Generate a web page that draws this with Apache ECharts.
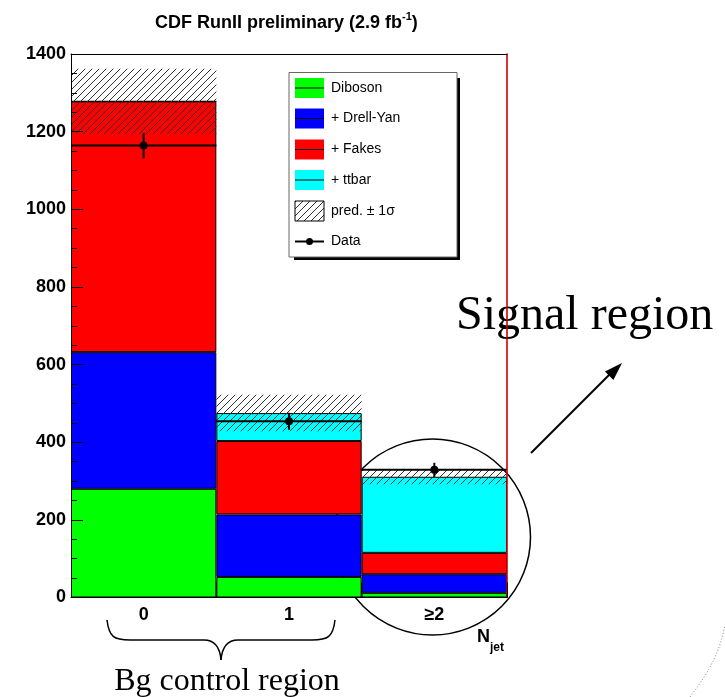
<!DOCTYPE html>
<html>
<head>
<meta charset="utf-8">
<script src="https://cdn.jsdelivr.net/npm/echarts@6/dist/echarts.min.js"></script>
<style>
html,body{margin:0;padding:0;background:#fff;}
#c{width:725px;height:697px;}
</style>
</head>
<body>
<div id="c"></div>
<script>
// ---- data ----
const categories = ['0', '1', '\u22652'];
const diboson  = [280, 53, 12];
const drellYan = [352, 161, 48];
const fakes    = [646, 189, 55];
const ttbar    = [0, 72, 196];
const predErr  = [84, 47, 19];
const dataVals = [1164, 454, 329];
const dataErr  = [33, 22, 18];
const yTicks   = [0, 200, 400, 600, 800, 1000, 1200, 1400];

const FONT = 'Liberation Sans, Arial, Helvetica, sans-serif';
const SERIF = 'Liberation Serif, Times New Roman, serif';

function makeHatch() {
  const c = document.createElement('canvas');
  c.width = 7; c.height = 7;
  const g = c.getContext('2d');
  g.strokeStyle = '#333';
  g.lineWidth = 1;
  g.beginPath();
  g.moveTo(-1, 8); g.lineTo(8, -1);
  g.moveTo(-1, 1); g.lineTo(1, -1);
  g.moveTo(6, 8); g.lineTo(8, 6);
  g.stroke();
  return c;
}
const hatch = makeHatch();

const totals = categories.map((_, i) => diboson[i] + drellYan[i] + fakes[i] + ttbar[i]);
const bandData = categories.map((_, i) => [i, totals[i] - predErr[i], totals[i] + predErr[i]]);
const dataPts = categories.map((_, i) => [i, dataVals[i], dataErr[i]]);

const chart = echarts.init(document.getElementById('c'), null, {renderer: 'canvas'});

const barStyle = (color) => ({color: color, borderColor: '#000', borderWidth: 1});

// legend layout
const legX = 295, legW = 29, legH = 20;
const legY = [88, 118.5, 149.5, 180, 211, 241.5];
const legNames = ['Diboson', '+ Drell-Yan', '+ Fakes', '+ ttbar', 'pred. \u00b1 1\u03c3', 'Data'];
const legColors = ['#00ff00', '#0000ff', '#ff0000', '#00ffff'];
const legendEls = [
  {type: 'rect', shape: {x: 457, y: 78, width: 3, height: 182}, style: {fill: '#000'}},
  {type: 'rect', shape: {x: 294, y: 257, width: 166, height: 3}, style: {fill: '#000'}},
  {type: 'rect', shape: {x: 289, y: 72.5, width: 168, height: 184.5}, style: {fill: '#fff', stroke: '#666', lineWidth: 1}}
];
legColors.forEach((col, k) => {
  legendEls.push({type: 'rect', shape: {x: legX, y: legY[k] - legH / 2, width: legW, height: legH}, style: {fill: col}});
  legendEls.push({type: 'line', shape: {x1: legX, y1: legY[k], x2: legX + legW, y2: legY[k]}, style: {stroke: '#000', lineWidth: 1}});
});
legendEls.push({type: 'rect', shape: {x: legX, y: legY[4] - legH / 2, width: legW, height: legH}, style: {fill: {image: hatch, repeat: 'repeat'}, stroke: '#000', lineWidth: 1}});
legendEls.push({type: 'line', shape: {x1: legX, y1: legY[5], x2: legX + legW, y2: legY[5]}, style: {stroke: '#000', lineWidth: 2}});
legendEls.push({type: 'circle', shape: {cx: legX + legW / 2, cy: legY[5], r: 3.5}, style: {fill: '#000'}});
legNames.forEach((n, k) => {
  legendEls.push({type: 'text', x: 331, y: legY[k], style: {text: n, font: '14px ' + FONT, fill: '#000', verticalAlign: 'middle', align: 'left'}});
});

const braceStyle = {fill: null, stroke: '#000', lineWidth: 1.5};
const annot = [
  // circle around signal region
  {type: 'circle', shape: {cx: 432.5, cy: 537, r: 98}, style: {fill: null, stroke: '#000', lineWidth: 1.5}},
  // arrow
  {type: 'line', shape: {x1: 531, y1: 453, x2: 612, y2: 372}, style: {stroke: '#000', lineWidth: 2}},
  {type: 'polygon', shape: {points: [[622, 363], [613.4, 380], [605, 371.4]]}, style: {fill: '#000'}},
  {type: 'text', x: 456, y: 316, style: {text: 'Signal region', font: '48px ' + SERIF, fill: '#000', verticalAlign: 'middle', align: 'left'}},
  // brace
  {type: 'bezierCurve', shape: {x1: 107, y1: 620, cpx1: 109, cpy1: 637, cpx2: 114, cpy2: 640, x2: 130, y2: 640}, style: braceStyle},
  {type: 'line', shape: {x1: 130, y1: 640, x2: 204, y2: 640}, style: braceStyle},
  {type: 'bezierCurve', shape: {x1: 204, y1: 640, cpx1: 215, cpy1: 640, cpx2: 220, cpy2: 648, x2: 221, y2: 660}, style: braceStyle},
  {type: 'bezierCurve', shape: {x1: 221, y1: 660, cpx1: 222, cpy1: 648, cpx2: 227, cpy2: 640, x2: 238, y2: 640}, style: braceStyle},
  {type: 'line', shape: {x1: 238, y1: 640, x2: 312, y2: 640}, style: braceStyle},
  {type: 'bezierCurve', shape: {x1: 312, y1: 640, cpx1: 328, cpy1: 640, cpx2: 333, cpy2: 637, x2: 335, y2: 620}, style: braceStyle},
  {type: 'text', x: 227, y: 682, style: {text: 'Bg control region', font: '32px ' + SERIF, fill: '#000', verticalAlign: 'middle', align: 'center'}},
  // axis title N_jet
  {type: 'text', x: 477, y: 637.5, style: {text: 'N', font: 'bold 18px ' + FONT, fill: '#000', verticalAlign: 'middle', align: 'left'}},
  {type: 'text', x: 490, y: 647.5, style: {text: 'jet', font: 'bold 12px ' + FONT, fill: '#000', verticalAlign: 'middle', align: 'left'}},
  // faint dotted arc at lower right
  {type: 'bezierCurve', shape: {x1: 690, y1: 697, cpx1: 712, cpy1: 668, cpx2: 720, cpy2: 650, x2: 725, y2: 625}, style: {fill: null, stroke: '#888', lineWidth: 1, lineDash: [1, 2]}}
];

const option = {
  animation: false,
  backgroundColor: '#fff',
  title: {
    text: '{a|CDF RunII preliminary (2.9 fb}{s|-1}{a|)}',
    left: 150, top: 6,
    textStyle: {
      rich: {
        a: {fontFamily: FONT, fontWeight: 'bold', fontSize: 18, color: '#000', lineHeight: 24},
        s: {fontFamily: FONT, fontWeight: 'bold', fontSize: 11, color: '#000', verticalAlign: 'top', lineHeight: 16}
      }
    }
  },
  grid: {left: 71, right: 218, top: 54, bottom: 99.5, containLabel: false, outerBoundsMode: 'none'},
  xAxis: [
    {
      type: 'category', data: categories, position: 'bottom', z: 10,
      axisLine: {show: true, onZero: false, lineStyle: {color: '#000', width: 1}},
      axisTick: {show: true, inside: true, length: 15, lineStyle: {color: '#000', width: 1}},
      axisLabel: {color: '#000', fontFamily: FONT, fontWeight: 'bold', fontSize: 18, margin: 9},
      splitLine: {show: false}
    },
    {
      type: 'category', data: categories, position: 'top', z: 10,
      axisLine: {show: true, onZero: false, lineStyle: {color: '#000', width: 1}},
      axisTick: {show: false}, axisLabel: {show: false}, splitLine: {show: false}
    }
  ],
  yAxis: [
    {
      type: 'value', min: yTicks[0], max: yTicks[yTicks.length - 1], interval: yTicks[1] - yTicks[0], z: 10,
      axisLine: {show: true, onZero: false, lineStyle: {color: '#000', width: 1}},
      axisTick: {show: true, inside: true, length: 12, lineStyle: {color: '#000', width: 1}},
      minorTick: {show: true, splitNumber: 4, length: 6, lineStyle: {color: '#000', width: 1}},
      axisLabel: {color: '#000', fontFamily: FONT, fontWeight: 'bold', fontSize: 18, margin: 5,
                  formatter: function (v) { return String(v); }},
      splitLine: {show: false}
    },
    {
      type: 'value', min: yTicks[0], max: yTicks[yTicks.length - 1], position: 'right', z: 10,
      axisLine: {show: true, onZero: false, lineStyle: {color: '#cc0000', width: 1.6}},
      axisTick: {show: false}, axisLabel: {show: false}, splitLine: {show: false}
    }
  ],
  series: [
    {name: 'Diboson', type: 'bar', stack: 'mc', data: diboson, barWidth: '100%', barCategoryGap: '0%', itemStyle: barStyle('#00ff00'), z: 2},
    {name: '+ Drell-Yan', type: 'bar', stack: 'mc', data: drellYan, barWidth: '100%', barCategoryGap: '0%', itemStyle: barStyle('#0000ff'), z: 2},
    {name: '+ Fakes', type: 'bar', stack: 'mc', data: fakes, barWidth: '100%', barCategoryGap: '0%', itemStyle: barStyle('#ff0000'), z: 2},
    {name: '+ ttbar', type: 'bar', stack: 'mc', data: ttbar, barWidth: '100%', barCategoryGap: '0%', itemStyle: barStyle('#00ffff'), z: 2},
    {
      name: 'pred. \u00b1 1\u03c3', type: 'custom', z: 3, data: bandData,
      encode: {x: 0, y: [1, 2]},
      renderItem: function (params, api) {
        const i = api.value(0);
        const top = api.coord([i, api.value(2)]);
        const bot = api.coord([i, api.value(1)]);
        const w = api.size([1, 0])[0];
        return {type: 'rect', shape: {x: top[0] - w / 2, y: top[1], width: w, height: bot[1] - top[1]},
                style: {fill: {image: hatch, repeat: 'repeat'}}};
      }
    },
    {
      name: 'Data', type: 'custom', z: 4, data: dataPts,
      encode: {x: 0, y: 1},
      renderItem: function (params, api) {
        const i = api.value(0), v = api.value(1), e = api.value(2);
        const p = api.coord([i, v]);
        const hi = api.coord([i, v + e]);
        const lo = api.coord([i, v - e]);
        const w = api.size([1, 0])[0];
        return {type: 'group', children: [
          {type: 'line', shape: {x1: p[0] - w / 2, y1: p[1], x2: p[0] + w / 2, y2: p[1]}, style: {stroke: '#000', lineWidth: 2}},
          {type: 'line', shape: {x1: p[0], y1: hi[1], x2: p[0], y2: lo[1]}, style: {stroke: '#000', lineWidth: 2}},
          {type: 'circle', shape: {cx: p[0], cy: p[1], r: 4}, style: {fill: '#000'}}
        ]};
      }
    }
  ],
  graphic: [
    {type: 'group', z: 100, children: legendEls},
    {type: 'group', z: 100, children: annot}
  ]
};
chart.setOption(option);
</script>
</body>
</html>
